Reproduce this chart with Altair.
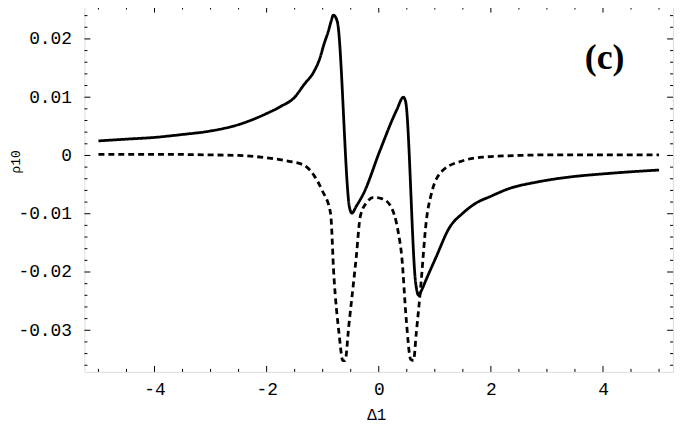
import altair as alt
import pandas as pd

# solid curve
solid_x = [-5.0, -4.5, -4.0, -3.5, -3.0, -2.5, -2.0, -1.75, -1.5, -1.33, -1.15, -1.05, -0.98,
           -0.90, -0.85, -0.81, -0.74, -0.52, -0.48, -0.40, -0.27, 0.02, 0.32, 0.44, 0.48,
           0.66, 0.71, 0.76, 0.85, 1.02, 1.26, 1.5, 1.73, 2.0, 2.32, 2.8, 3.32, 4.08, 4.5, 5.0]
solid_y = [0.0025, 0.0028, 0.0031, 0.0036, 0.0042, 0.0053, 0.0072, 0.0084, 0.0100, 0.0122,
           0.0145, 0.0167, 0.0190, 0.0213, 0.0230, 0.0241, 0.0230, -0.0090, -0.0099, -0.0087,
           -0.0065, 0.0008, 0.0078, 0.0100, 0.0092, -0.0220, -0.0240, -0.0232, -0.0212,
           -0.0175, -0.0124, -0.0099, -0.0082, -0.0070, -0.0057, -0.0046, -0.0038, -0.0031,
           -0.0028, -0.0025]

# dashed curve
dash_x = [-5.0, -4.0, -3.0, -2.5, -2.0, -1.6, -1.33, -1.15, -1.01, -0.86, -0.80, -0.71, -0.64,
          -0.60, -0.535, -0.40, -0.33, -0.21, -0.09, 0.05, 0.20, 0.35, 0.41, 0.49, 0.57, 0.62,
          0.67, 0.74, 0.85, 0.94, 1.14, 1.5, 1.85, 2.5, 3.0, 4.0, 5.0]
dash_y = [0.0002, 0.0002, 0.0001, 0.0, -0.0004, -0.0010, -0.0017, -0.0035, -0.0060, -0.0099,
          -0.0207, -0.0304, -0.0352, -0.0352, -0.0293, -0.0173, -0.0105, -0.0080, -0.0072,
          -0.0074, -0.0085, -0.0133, -0.0173, -0.0281, -0.0350, -0.0352, -0.0304, -0.0235,
          -0.0111, -0.0065, -0.0026, -0.0009, -0.0003, 0.0, 0.0001, 0.0001, 0.0001]

x_major = [-4, -2, 0, 2, 4]
x_minor = [-5, -4.5, -3.5, -3, -2.5, -1.5, -1, -0.5, 0.5, 1, 1.5, 2.5, 3, 3.5, 4.5, 5]
y_major = [-0.03, -0.02, -0.01, 0.0, 0.01, 0.02]
y_minor = [-0.036, -0.034, -0.032, -0.028, -0.026, -0.024, -0.022, -0.018, -0.016, -0.014,
           -0.012, -0.008, -0.006, -0.004, -0.002, 0.002, 0.004, 0.006, 0.008, 0.012, 0.014,
           0.016, 0.018, 0.022, 0.024]

W, H = 593, 368
XDOM = [-5.25, 5.25]
YDOM = [-0.03714, 0.02555]

lines = pd.DataFrame({
    "x": solid_x + dash_x,
    "y": solid_y + dash_y,
    "s": ["solid"] * len(solid_x) + ["dashed"] * len(dash_x),
})

xs = alt.Scale(domain=XDOM, nice=False, zero=False)
ys = alt.Scale(domain=YDOM, nice=False, zero=False)

xaxis = alt.Axis(values=x_major, ticks=False, domain=False, grid=False,
                 labelFont="Liberation Mono", labelFontSize=18, labelColor="black",
                 labelPadding=9, labelExpr="replace(format(datum.value, 'd'), '−', '-')",
                 title="Δ1", titleFont="Liberation Mono", titleFontSize=16,
                 titleFontWeight="normal", titleColor="black",
                 titleX=294, titleY=43, titleBaseline="middle", titleAlign="center")
yaxis = alt.Axis(values=y_major, ticks=False, domain=False, grid=False,
                 labelFont="Liberation Mono", labelFontSize=18, labelColor="black",
                 labelPadding=13, labelBaseline="middle",
                 labelExpr="datum.value == 0 ? '0' : replace(format(datum.value, '.2f'), '−', '-')",
                 title="ρ10", titleFont="Liberation Mono", titleFontSize=13,
                 titleFontWeight="normal", titleColor="black",
                 titleX=-69, titleY=156, titleAngle=270,
                 titleBaseline="middle", titleAlign="center")

base_line = alt.Chart(lines).mark_line(color="black", strokeWidth=2.8, clip=True,
                                       interpolate="monotone").encode(
    x=alt.X("x:Q", scale=xs, axis=xaxis, title="Δ1"),
    y=alt.Y("y:Q", scale=ys, axis=yaxis, title="ρ10"),
    strokeDash=alt.StrokeDash("s:N", scale=alt.Scale(domain=["solid", "dashed"],
                                                     range=[[1, 0], [6, 4]]), legend=None),
    detail="s:N",
)

xmaj = pd.DataFrame({"t": x_major})
xmin = pd.DataFrame({"t": x_minor})
ymaj = pd.DataFrame({"t": y_major})
ymin = pd.DataFrame({"t": y_minor})

def xticks(df, L):
    bottom = alt.Chart(df).mark_rule(color="black", strokeWidth=1).encode(
        x=alt.X("t:Q", scale=xs, axis=xaxis, title="Δ1"), y=alt.value(H), y2=alt.value(H - L))
    top = alt.Chart(df).mark_rule(color="black", strokeWidth=1).encode(
        x=alt.X("t:Q", scale=xs, axis=xaxis, title="Δ1"), y=alt.value(0), y2=alt.value(L))
    return [bottom, top]

def yticks(df, L):
    left = alt.Chart(df).mark_rule(color="black", strokeWidth=1).encode(
        y=alt.Y("t:Q", scale=ys, axis=yaxis, title="ρ10"), x=alt.value(0), x2=alt.value(L))
    right = alt.Chart(df).mark_rule(color="black", strokeWidth=1).encode(
        y=alt.Y("t:Q", scale=ys, axis=yaxis, title="ρ10"), x=alt.value(W), x2=alt.value(W - L))
    return [left, right]

label = alt.Chart(pd.DataFrame({"txt": ["(c)"]})).mark_text(
    font="Liberation Serif", fontSize=36, fontWeight="bold", color="black",
    align="center", baseline="middle").encode(
    text="txt:N", x=alt.value(524), y=alt.value(52))

layers = [base_line] + xticks(xmaj, 6) + xticks(xmin, 3) + yticks(ymaj, 6) + yticks(ymin, 3) + [label]

chart = alt.layer(*layers).properties(
    width=W, height=H,
    autosize=alt.AutoSizeParams(type="none"),
    padding={"left": 77, "top": -3, "right": 10, "bottom": 60},
).configure_view(stroke="black", strokeWidth=1).configure(background="white")

chart.save("out.html", embed_options={"renderer": "svg", "actions": False})
